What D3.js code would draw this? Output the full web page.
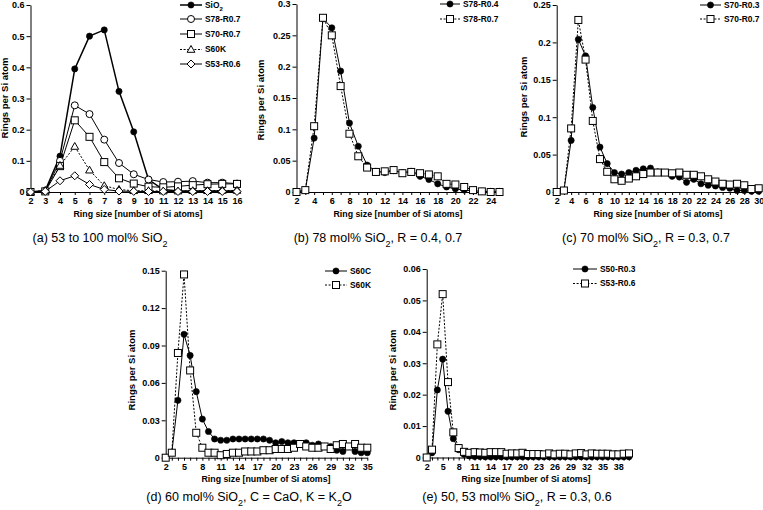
<!DOCTYPE html>
<html><head><meta charset="utf-8">
<script src="https://cdn.jsdelivr.net/npm/d3@7/dist/d3.min.js"></script>
<style>body{margin:0;background:#fff}svg{display:block}</style>
</head><body>
<script>
// ---------------- DATA ----------------
// (a) 53 to 100 mol% SiO2
const sizesA = [2,3,4,5,6,7,8,9,10,11,12,13,14,15,16];
const aSiO2   = [0,0.005,0.115,0.395,0.500,0.520,0.323,0.193,0.040,0.008,0.003,0.003,0.003,0.003,0.003];
const aS78R07 = [0,0.003,0.100,0.278,0.250,0.168,0.093,0.057,0.040,0.032,0.033,0.035,0.030,0.030,0.027];
const aS70R07 = [0,0.002,0.083,0.230,0.177,0.096,0.044,0.027,0.017,0.015,0.018,0.022,0.025,0.026,0.026];
const aS60K   = [0,0.005,0.085,0.146,0.070,0.020,0.008,0.004,0.004,0.003,0.003,0.004,0.004,0.005,0.005];
const aS53R06 = [0,0.002,0.036,0.052,0.024,0.008,0.003,0.002,0.0015,0.0017,0.0016,0.0015,0.0017,0.0017,0.0017];
const xLabelsA = [2,3,4,5,6,7,8,9,10,11,12,13,14,15,16];
const yTicksA = [0,0.1,0.2,0.3,0.4,0.5,0.6];

// (b) 78 mol% SiO2
const sizesB = [2,3,4,5,6,7,8,9,10,11,12,13,14,15,16,17,18,19,20,21,22,23,24,25];
const bS78R04 = [0,0.003,0.086,0.277,0.262,0.193,0.110,0.073,0.043,0.033,0.031,0.034,0.031,0.033,0.025,0.020,0.013,0.008,0.005,0.003,0.002,0.001,0.001,0.001];
const bS78R07 = [0,0.003,0.105,0.278,0.250,0.169,0.093,0.057,0.039,0.032,0.033,0.035,0.030,0.032,0.030,0.028,0.025,0.013,0.012,0.008,0.003,0.001,0.000,0.000];
const xLabelsB = [2,4,6,8,10,12,14,16,18,20,22,24];
const yTicksB = [0,0.05,0.1,0.15,0.2,0.25,0.3];

// (c) 70 mol% SiO2
const sizesC = [2,3,4,5,6,7,8,9,10,11,12,13,14,15,16,17,18,19,20,21,22,23,24,25,26,27,28,29,30];
const cS70R03 = [0,0.002,0.069,0.204,0.182,0.113,0.060,0.038,0.026,0.024,0.026,0.029,0.031,0.032,0.027,0.026,0.021,0.020,0.013,0.017,0.011,0.009,0.008,0.006,0.005,0.002,0.002,0.001,0.001];
const cS70R07 = [0,0.002,0.085,0.230,0.177,0.095,0.044,0.027,0.017,0.015,0.018,0.021,0.024,0.026,0.026,0.026,0.025,0.026,0.023,0.023,0.021,0.017,0.014,0.011,0.010,0.011,0.009,0.004,0.005];
const xLabelsC = [2,4,6,8,10,12,14,16,18,20,22,24,26,28,30];
const yTicksC = [0,0.05,0.1,0.15,0.2,0.25];

// (d) 60 mol% SiO2
const sizesD = [2,3,4,5,6,7,8,9,10,11,12,13,14,15,16,17,18,19,20,21,22,23,24,25,26,27,28,29,30,31,32,33,34,35];
const dS60C = [0,0.004,0.046,0.099,0.082,0.053,0.031,0.021,0.015,0.014,0.014,0.015,0.015,0.015,0.015,0.015,0.015,0.014,0.012,0.013,0.012,0.012,0.011,0.012,0.010,0.011,0.009,0.009,0.006,0.005,0.009,0.005,0.004,0.004];
const dS60K = [0,0.004,0.084,0.147,0.070,0.020,0.008,0.004,0.004,0.002,0.003,0.004,0.004,0.005,0.005,0.005,0.006,0.006,0.007,0.007,0.007,0.008,0.011,0.009,0.008,0.008,0.009,0.007,0.010,0.011,0.009,0.011,0.008,0.008];
const xLabelsD = [2,5,8,11,14,17,20,23,26,29,32,35];
const yTicksD = [0,0.03,0.06,0.09,0.12,0.15];

// (e) 50, 53 mol% SiO2
const sizesE = [2,3,4,5,6,7,8,9,10,11,12,13,14,15,16,17,18,19,20,21,22,23,24,25,26,27,28,29,30,31,32,33,34,35,36,37,38,39,40];
const eS50R03 = [0,0.0015,0.0215,0.0313,0.0147,0.006,0.0025,0.001,0.0005,0.0003,0.0003,0.0002,0.0002,0.0002,0.0002,0.0002,0.0002,0.0002,0.0002,0.0002,0.0002,0.0002,0.0002,0.0002,0.0002,0.0002,0.0002,0.0002,0.0002,0.0002,0.0002,0.0002,0.0002,0.0002,0.0002,0.0002,0.0002,0.0002,0.0002];
const eS53R06 = [0,0.0025,0.036,0.052,0.024,0.008,0.003,0.0018,0.0015,0.0017,0.0016,0.0015,0.0017,0.0017,0.0017,0.0012,0.0013,0.0013,0.0015,0.0011,0.0011,0.0011,0.001,0.0013,0.001,0.0012,0.0012,0.001,0.0013,0.0014,0.001,0.0013,0.0012,0.0012,0.0012,0.001,0.001,0.0012,0.0013];
const xLabelsE = [2,5,8,11,14,17,20,23,26,29,32,35,38];
const yTicksE = [0,0.01,0.02,0.03,0.04,0.05,0.06];

// ---------------- DRAWING ----------------
const W = 763, H = 510;
const FONT = "Arial, 'Liberation Sans', sans-serif";
const svg = d3.select("body").append("svg").attr("width", W).attr("height", H)
  .style("font-family", FONT);

const fmt = d => d === 0 ? "0" : String(+d.toFixed(3));

function marker(sel, type, cx, cy) {
  const s = 3.5;
  if (type === "dot") {
    sel.append("circle").attr("cx", cx).attr("cy", cy).attr("r", 3.1).attr("fill", "#000").attr("stroke", "#000").attr("stroke-width", 0.6);
  } else if (type === "circle") {
    sel.append("circle").attr("cx", cx).attr("cy", cy).attr("r", 3.5).attr("fill", "#fff").attr("stroke", "#000").attr("stroke-width", 1);
  } else if (type === "square") {
    sel.append("rect").attr("x", cx - s).attr("y", cy - s).attr("width", 2 * s).attr("height", 2 * s)
      .attr("fill", "#fff").attr("stroke", "#000").attr("stroke-width", 1);
  } else if (type === "triangle") {
    sel.append("path").attr("d", `M${cx},${cy - 4}L${cx + 3.9},${cy + 2.8}L${cx - 3.9},${cy + 2.8}Z`)
      .attr("fill", "#fff").attr("stroke", "#000").attr("stroke-width", 1);
  } else if (type === "diamond") {
    sel.append("path").attr("d", `M${cx},${cy - 4}L${cx + 4},${cy}L${cx},${cy + 4}L${cx - 4},${cy}Z`)
      .attr("fill", "#fff").attr("stroke", "#000").attr("stroke-width", 1);
  }
}

function labelWithSub(sel, parts) {
  parts.forEach(([t, sub]) => {
    const ts = sel.append("tspan").text(t);
    if (sub) ts.attr("font-size", "0.72em").attr("baseline-shift", "sub");
  });
}

function drawPanel(p) {
  const x = d3.scaleLinear().domain(p.xDomain).range([p.left, p.right]);
  const y = d3.scaleLinear().domain(p.yDomain).range([p.bottom, p.top]);
  const g = svg.append("g");

  // Y axis
  const ya = g.append("g").attr("transform", `translate(${p.left},0)`)
    .call(d3.axisLeft(y).tickValues(p.yTicks).tickFormat(fmt).tickSize(4).tickSizeOuter(0).tickPadding(2));
  ya.selectAll("text").attr("font-size", 9).attr("font-weight", "bold").attr("font-family", FONT);

  // X axis
  const xa = g.append("g").attr("transform", `translate(0,${p.bottom})`)
    .call(d3.axisBottom(x).tickValues(p.sizes).tickFormat(d => p.xLabels.includes(d) ? d : "")
      .tickSize(3).tickSizeOuter(0).tickPadding(3));
  xa.selectAll("text").attr("font-size", 9).attr("font-weight", "bold").attr("font-family", FONT);
  [ya, xa].forEach(a => { a.select(".domain").attr("stroke", "#000"); a.selectAll("line").attr("stroke", "#000"); });

  // axis titles
  g.append("text").attr("x", p.xTitleX).attr("y", p.bottom + 24.5).attr("text-anchor", "middle")
    .attr("font-size", 8.8).attr("font-weight", "bold").text("Ring size [number of Si atoms]");
  g.append("text").attr("transform", `translate(${p.yTitleX},${p.yTitleY}) rotate(-90)`)
    .attr("text-anchor", "middle").attr("font-size", 9.5).attr("font-weight", "bold").text("Rings per Si atom");

  // caption
  const cap = g.append("text").attr("x", p.capX).attr("y", p.capY).attr("text-anchor", "middle")
    .attr("font-size", 12.5);
  labelWithSub(cap, p.caption);

  // series
  const line = d3.line().x((d, i) => x(p.sizes[i])).y(d => y(d));
  p.series.forEach(s => {
    g.append("path").datum(s.values).attr("d", line).attr("fill", "none").attr("stroke", "#000")
      .attr("stroke-width", s.width || 1).attr("stroke-dasharray", s.dash ? "2,1.6" : null);
  });
  p.series.forEach(s => {
    const mg = g.append("g");
    s.values.forEach((v, i) => marker(mg, s.marker, x(p.sizes[i]), y(v)));
  });

  // legend
  p.series.forEach((s, i) => {
    const ly = p.legend.ys[i];
    g.append("line").attr("x1", p.legend.x1).attr("x2", p.legend.x2).attr("y1", ly).attr("y2", ly)
      .attr("stroke", "#000").attr("stroke-width", s.width || 1).attr("stroke-dasharray", s.dash ? "2,1.6" : null);
    marker(g, s.marker, (p.legend.x1 + p.legend.x2) / 2, ly);
    const t = g.append("text").attr("x", p.legend.tx).attr("y", ly).attr("dy", "0.35em")
      .attr("font-size", 8.4).attr("font-weight", "bold");
    labelWithSub(t, s.label);
  });
}

const panels = [
  { sizes: sizesA, xDomain: [2, 16], yDomain: [0, 0.6], left: 30.5, right: 237, top: 5, bottom: 192,
    xLabels: xLabelsA, yTicks: yTicksA, xTitleX: 138, yTitleX: 8, yTitleY: 98,
    capX: 100, capY: 242, caption: [["(a) 53 to 100 mol% SiO"], ["2", true]],
    series: [
      { values: aSiO2, marker: "dot", label: [["SiO"], ["2", true]], width: 1.5 },
      { values: aS78R07, marker: "circle", label: [["S78-R0.7"]] },
      { values: aS70R07, marker: "square", label: [["S70-R0.7"]] },
      { values: aS60K, marker: "triangle", label: [["S60K"]], dash: true },
      { values: aS53R06, marker: "diamond", label: [["S53-R0.6"]] }
    ],
    legend: { x1: 180, x2: 202, tx: 205, ys: [5, 19, 34, 49.5, 64] } },
  { sizes: sizesB, xDomain: [2, 25], yDomain: [0, 0.3], left: 296.5, right: 499.5, top: 4, bottom: 192,
    xLabels: xLabelsB, yTicks: yTicksB, xTitleX: 398, yTitleX: 264, yTitleY: 100,
    capX: 378, capY: 242, caption: [["(b) 78 mol% SiO"], ["2", true], [", R = 0.4, 0.7"]],
    series: [
      { values: bS78R04, marker: "dot", label: [["S78-R0.4"]] },
      { values: bS78R07, marker: "square", label: [["S78-R0.7"]], dash: true }
    ],
    legend: { x1: 440, x2: 460, tx: 463, ys: [4, 19] } },
  { sizes: sizesC, xDomain: [2, 30], yDomain: [0, 0.25], left: 556.7, right: 758.7, top: 5, bottom: 192,
    xLabels: xLabelsC, yTicks: yTicksC, xTitleX: 658, yTitleX: 527, yTitleY: 97,
    capX: 646, capY: 242, caption: [["(c) 70 mol% SiO"], ["2", true], [", R = 0.3, 0.7"]],
    series: [
      { values: cS70R03, marker: "dot", label: [["S70-R0.3"]] },
      { values: cS70R07, marker: "square", label: [["S70-R0.7"]], dash: true }
    ],
    legend: { x1: 700, x2: 721, tx: 724, ys: [5, 19] } },
  { sizes: sizesD, xDomain: [2, 35], yDomain: [0, 0.15], left: 165.7, right: 367.3, top: 270.7, bottom: 457.7,
    xLabels: xLabelsD, yTicks: yTicksD, xTitleX: 266, yTitleX: 135, yTitleY: 370,
    capX: 249, capY: 501, caption: [["(d) 60 mol% SiO"], ["2", true], [", C = CaO, K = K"], ["2", true], ["O"]],
    series: [
      { values: dS60C, marker: "dot", label: [["S60C"]] },
      { values: dS60K, marker: "square", label: [["S60K"]], dash: true }
    ],
    legend: { x1: 325, x2: 347, tx: 350, ys: [271, 285] } },
  { sizes: sizesE, xDomain: [2, 40], yDomain: [0, 0.06], left: 426.7, right: 629, top: 269, bottom: 457.5,
    xLabels: xLabelsE, yTicks: yTicksE, xTitleX: 526, yTitleX: 396, yTitleY: 370,
    capX: 517, capY: 501, caption: [["(e) 50, 53 mol% SiO"], ["2", true], [", R = 0.3, 0.6"]],
    series: [
      { values: eS50R03, marker: "dot", label: [["S50-R0.3"]] },
      { values: eS53R06, marker: "square", label: [["S53-R0.6"]], dash: true }
    ],
    legend: { x1: 573, x2: 597, tx: 600, ys: [269, 283.5] } }
];

panels.forEach(drawPanel);
</script>
</body></html>
